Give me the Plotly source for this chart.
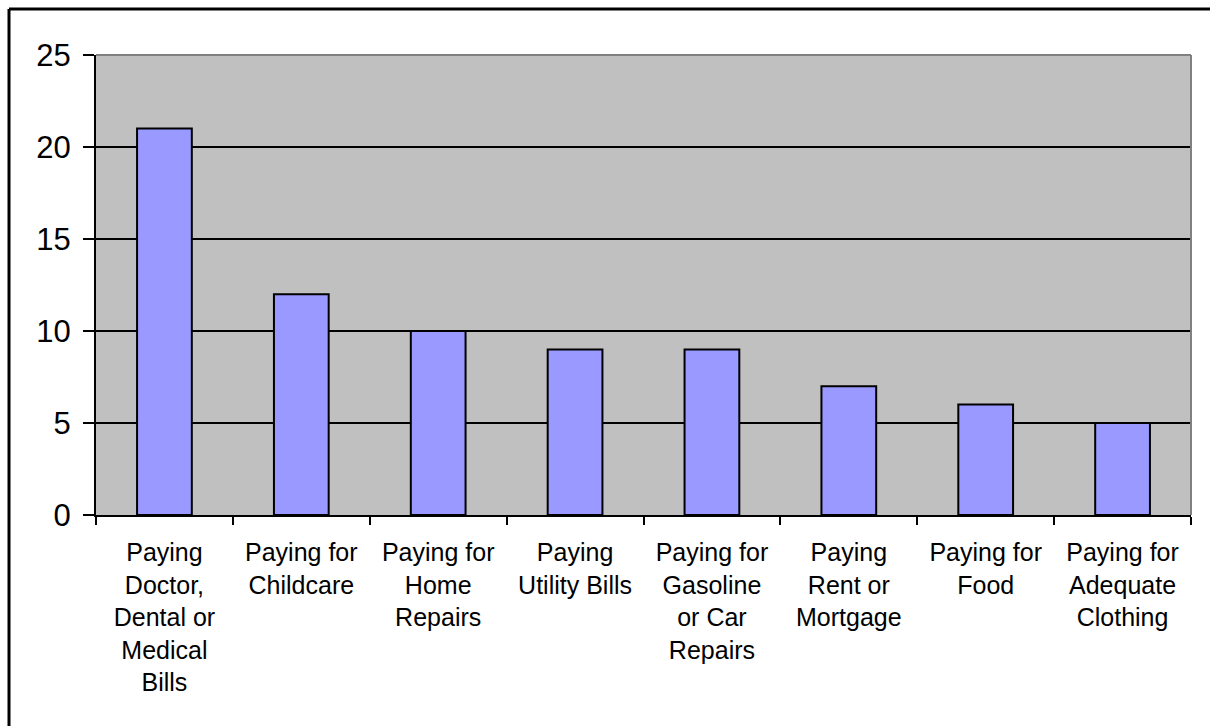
import plotly.graph_objects as go

categories = [
    "Paying<br>Doctor,<br>Dental or<br>Medical<br>Bills",
    "Paying for<br>Childcare",
    "Paying for<br>Home<br>Repairs",
    "Paying<br>Utility Bills",
    "Paying for<br>Gasoline<br>or Car<br>Repairs",
    "Paying<br>Rent or<br>Mortgage",
    "Paying for<br>Food",
    "Paying for<br>Adequate<br>Clothing",
]
values = [21, 12, 10, 9, 9, 7, 6, 5]
y_ticks = [0, 5, 10, 15, 20, 25]

W, H = 1210, 726
L, R, T, B = 96, 1191, 55, 515

fig = go.Figure(
    go.Bar(
        x=categories,
        y=values,
        marker=dict(color="#9999FF", line=dict(color="black", width=2)),
    )
)


def px_x(p):
    return (p - L) / (R - L)


def px_y(p):
    return (B - p) / (B - T)


fig.update_layout(
    width=W,
    height=H,
    margin=dict(l=L, r=W - R, t=T, b=H - B),
    paper_bgcolor="white",
    plot_bgcolor="#C0C0C0",
    bargap=0.6,
    showlegend=False,
    font=dict(family="Liberation Sans, Arial, sans-serif", color="black"),
    xaxis=dict(
        tickson="boundaries",
        ticks="outside",
        ticklen=8,
        tickwidth=2,
        tickcolor="black",
        showline=True,
        linecolor="black",
        linewidth=2,
        showgrid=False,
        tickfont=dict(size=25),
        tickangle=0,
        ticklabelstandoff=14,
    ),
    yaxis=dict(
        range=[0, 25],
        tickvals=y_ticks,
        ticks="outside",
        ticklen=11,
        tickwidth=2,
        tickcolor="black",
        showline=True,
        linecolor="black",
        linewidth=2,
        showgrid=True,
        gridcolor="black",
        gridwidth=1.5,
        zeroline=False,
        tickfont=dict(size=31),
        ticklabelstandoff=6,
    ),
    shapes=[
        # plot-area frame on the top and right sides
        dict(type="line", xref="paper", yref="paper", x0=0, x1=1, y0=1, y1=1,
             line=dict(color="#808080", width=2)),
        dict(type="line", xref="paper", yref="paper", x0=1, x1=1, y0=0, y1=1,
             line=dict(color="#808080", width=2)),
        # outer chart border
        dict(type="line", xref="paper", yref="paper",
             x0=px_x(9), x1=px_x(W + 5), y0=px_y(9), y1=px_y(9),
             line=dict(color="black", width=3)),
        dict(type="line", xref="paper", yref="paper",
             x0=px_x(9), x1=px_x(9), y0=px_y(9), y1=px_y(H + 5),
             line=dict(color="black", width=3)),
    ],
)

fig.write_html("out.html")
